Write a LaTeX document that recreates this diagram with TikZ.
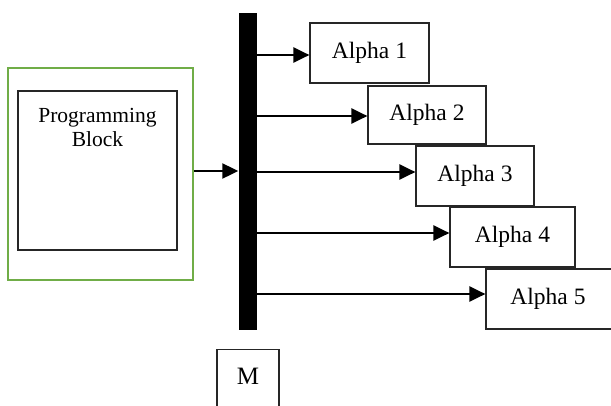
\documentclass[tikz,border=0pt]{standalone}
\usepackage{fontspec}
\setmainfont{Liberation Serif}
\usetikzlibrary{arrows.meta,calc}
\definecolor{pbgreen}{RGB}{112,173,71}
\begin{document}
\begin{tikzpicture}[x=1pt,y=-1pt,
  box/.style={draw=black!85, line width=1.2pt, fill=white, inner sep=0pt},
  alphabox/.style={box, font=\fontsize{23.5}{27}\selectfont},
  arr/.style={line width=2.2pt, -{Triangle[length=16pt,width=15pt]}}]
\useasboundingbox (0,0) rectangle (611,405);
\clip (0,0) rectangle (611,405);
% programming block
\node[draw=pbgreen, line width=2pt, minimum width=185pt, minimum height=212pt, inner sep=0pt] (green) at (100.5,174) {};
\node[box, minimum width=159pt, minimum height=159pt] (pb) at (97.5,170.5) {};
\node[font=\fontsize{21.5}{24}\selectfont, align=center, anchor=north, inner sep=0pt] (pbt) at ($(pb.north)+(0,18)$) {Programming\\Block};
% bar
\node[fill=black, minimum width=18.5pt, minimum height=317pt, inner sep=0pt] (bar) at (247.75,171.5) {};
% alpha boxes
\node[alphabox, minimum width=119pt, minimum height=60pt] (a1) at (369.5,53) {Alpha 1};
\node[alphabox, minimum width=118pt, minimum height=58pt] (a2) at (427,115) {Alpha 2};
\node[alphabox, minimum width=118pt, minimum height=60pt] (a3) at (475,176) {Alpha 3};
\node[alphabox, minimum width=125pt, minimum height=60pt] (a4) at (512.5,237) {Alpha 4};
\node[box, minimum width=154pt, minimum height=60pt] (a5) at (563,299) {};
\node[font=\fontsize{23.5}{27}\selectfont, inner sep=0pt] (a5t) at (548,299) {Alpha 5};
% M box
\node[box, font=\fontsize{25}{28}\selectfont, inner ysep=0pt, text height=35pt, text depth=36pt, minimum width=62pt, anchor=north] (m) at (248,349) {M};
% connector end points
\coordinate (in) at ($(green.east)+(0,-3)$);
\coordinate (t1) at ($(a1.west)+(0,2)$);
\coordinate (t2) at ($(a2.west)+(0,1)$);
\coordinate (t3) at ($(a3.west)+(0,-4)$);
\coordinate (t4) at ($(a4.west)+(0,-4)$);
\coordinate (t5) at ($(a5.west)+(0,-5)$);
% connectors
\draw[arr] (in) -- (in -| bar.west);
\draw[arr] (t1 -| bar.east) -- (t1);
\draw[arr] (t2 -| bar.east) -- (t2);
\draw[arr] (t3 -| bar.east) -- (t3);
\draw[arr] (t4 -| bar.east) -- (t4);
\draw[arr] (t5 -| bar.east) -- (t5);
\end{tikzpicture}
\end{document}
